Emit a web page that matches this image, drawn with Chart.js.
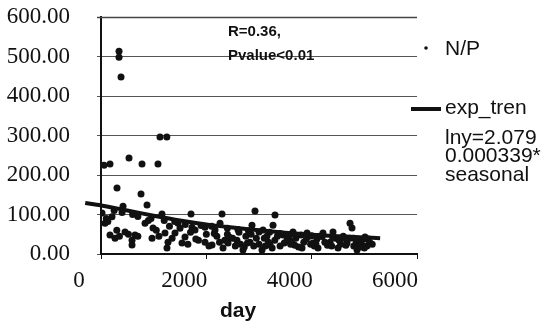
<!DOCTYPE html>
<html>
<head>
<meta charset="utf-8">
<script src="https://cdn.jsdelivr.net/npm/chart.js@4"></script>
<style>
  html, body { margin: 0; padding: 0; background: #fff; }
  #wrap { position: relative; width: 554px; height: 328px; }
</style>
</head>
<body>
<div id="wrap"><canvas id="c" width="554" height="328"></canvas></div>
<script>
// N/P ratio by day
var npDays = [
  342, 342, 380, 1120, 1250,
  57, 171, 532, 779, 1082,
  304, 760, 874, 418,
  1158, 1709, 2298, 2924, 3304,
  2260, 3266, 4728, 4766, 5013, 3646,
  19, 76, 209, 836, 988, 1462, 1728, 1975, 2165, 2867, 3076, 3456, 3912, 4215, 4405,
  171, 266, 456, 646, 589, 589, 969, 1215, 1272, 1253, 1538, 1405, 1595, 1785, 1975, 2108, 2317, 2412,
  2696, 3057, 3817, 4120, 4500, 4861, 2582, 2829, 3209, 3532, 4025, 4348, 4671, 4956,
  100, 130, 300, 350, 520, 700, 900, 1050, 1100, 1300, 1350, 1650, 1850, 2000, 2050, 2200, 2250,
  2400, 2500, 2550, 2650, 2750, 2900, 2950, 3000, 3150, 3250, 3300, 3400, 3600, 3700, 3750, 3850,
  3950, 4050, 4100, 4300, 4450, 4550, 4600, 4800, 4900, 5050, 5100, 5000,
  250, 400, 600, 700, 950, 1200, 1400, 1600, 1900, 2100, 2400, 2600, 2800, 3000, 3200, 3400,
  3600, 3800, 4000, 4200, 4400, 4600, 4800, 5000,
  1500, 1700, 1800, 2150, 2350, 2450, 2620, 2720, 2850, 3100, 3180, 3350, 3480, 3560, 3680,
  3900, 3980, 4150, 4250, 4380, 4520, 4650, 4720, 4850, 4920, 5080, 5150, 2780, 3120, 3620, 4080, 4480
];
var npValues = [
  513, 498, 448, 296, 296,
  225, 228, 243, 228, 228,
  167, 152, 124, 121,
  101, 101, 101, 109, 99,
  78, 73, 78, 66, 43, 56,
  104, 78, 94, 78, 66, 78, 68, 68, 61, 73, 61, 48, 53, 53, 56,
  48, 40, 56, 48, 35, 23, 40, 53, 30, 15, 28, 53, 43, 61, 30, 23, 15, 28,
  10, 10, 15, 15, 15, 10, 35, 30, 23, 35, 28, 30, 28, 23,
  90, 82, 60, 45, 50, 45, 85, 60, 45, 70, 40, 25, 35, 50, 20, 45, 30,
  50, 40, 20, 25, 45, 20, 40, 25, 45, 15, 35, 20, 25, 40, 18, 30,
  45, 20, 38, 22, 40, 25, 45, 20, 35, 20, 30, 15,
  110, 105, 100, 95, 90, 85, 82, 75, 72, 70, 65, 62, 58, 56, 55, 52,
  50, 48, 46, 44, 42, 40, 40, 38,
  65, 55, 38, 52, 35, 42, 55, 18, 50, 40, 30, 45, 28, 42, 22,
  38, 25, 45, 30, 20, 35, 22, 40, 30, 18, 38, 25, 28, 20, 32, 26
];
// exponential trend line
var trendDays = [-300, 0, 500, 1000, 1500, 2000, 2500, 3000, 3500, 4000, 4500, 5000, 5300];
var trendValues = [129, 123, 110, 97, 85, 75, 67, 60, 54, 49, 45, 42, 40];

var xTicks = [0, 2000, 4000, 6000];
var yTicks = [0, 100, 200, 300, 400, 500, 600];

var npPoints = npDays.map(function (d, i) { return { x: d, y: npValues[i] }; });
var trendPoints = trendDays.map(function (d, i) { return { x: d, y: trendValues[i] }; });

var sans = '"Liberation Sans", Arial, sans-serif';
var serif = '"Liberation Serif", "Times New Roman", serif';

var extras = {
  id: 'extras',
  afterDraw: function (chart) {
    var ctx = chart.ctx, a = chart.chartArea;
    ctx.save();
    // top frame line (600 grid)
    ctx.strokeStyle = '#444';
    ctx.lineWidth = 1.5;
    ctx.beginPath();
    ctx.moveTo(a.left - 4, Math.round(a.top) + 0.5);
    ctx.lineTo(a.right, Math.round(a.top) + 0.5);
    ctx.stroke();
    ctx.fillStyle = '#111';
    ctx.textBaseline = 'middle';
    // note
    ctx.font = 'bold 15px ' + sans;
    ctx.fillText('R=0.36,', 228, 32);
    ctx.fillText('Pvalue<0.01', 228, 56);
    // axis title
    ctx.font = 'bold 21px ' + sans;
    ctx.textAlign = 'center';
    ctx.fillText('day', 238, 311);
    ctx.textAlign = 'left';
    // legend
    ctx.beginPath();
    ctx.arc(426, 48, 1.8, 0, Math.PI * 2);
    ctx.fill();
    ctx.font = '21px ' + sans;
    ctx.fillText('N/P', 445, 49);
    ctx.fillRect(411, 107, 30, 4);
    ctx.fillText('exp_tren', 445, 108);
    ctx.fillText('lny=2.079', 445, 138);
    ctx.fillText('0.000339*', 445, 156);
    ctx.fillText('seasonal', 445, 175);
    ctx.restore();
  }
};

new Chart(document.getElementById('c'), {
  type: 'scatter',
  data: {
    datasets: [
      { label: 'exp_tren', data: trendPoints, showLine: true, borderColor: '#111', borderWidth: 4,
        pointRadius: 0, fill: false, clip: false, tension: 0.3 },
      { label: 'N/P', data: npPoints, backgroundColor: '#111', borderColor: '#111', pointRadius: 3.5, borderWidth: 0 }
    ]
  },
  plugins: [extras],
  options: {
    responsive: false,
    animation: false,
    layout: { padding: { left: 0, top: 17, right: 137, bottom: 0 } },
    plugins: { legend: { display: false }, tooltip: { enabled: false } },
    scales: {
      x: {
        type: 'linear', min: 0, max: 6000,
        afterBuildTicks: function (s) { s.ticks = xTicks.map(function (v) { return { value: v }; }); },
        afterFit: function (s) { s.height = 74; s.paddingLeft = 0; s.paddingRight = 0; },
        border: { color: '#111', width: 2 },
        grid: { drawOnChartArea: false, color: '#111', tickLength: 5 },
        ticks: { color: '#111', font: { family: serif, size: 23 }, padding: 8, labelOffset: -22,
          maxRotation: 0, callback: function (v) { return String(v); } }
      },
      y: {
        min: 0, max: 600,
        afterBuildTicks: function (s) { s.ticks = yTicks.map(function (v) { return { value: v }; }); },
        afterFit: function (s) { s.width = 101; s.paddingTop = 0; s.paddingBottom = 0; },
        border: { color: '#111', width: 2 },
        grid: { color: '#555', lineWidth: 1, tickLength: 4 },
        ticks: { color: '#111', font: { family: serif, size: 23 }, padding: 27,
          callback: function (v) { return v.toFixed(2); } }
      }
    }
  }
});
</script>
</body>
</html>
